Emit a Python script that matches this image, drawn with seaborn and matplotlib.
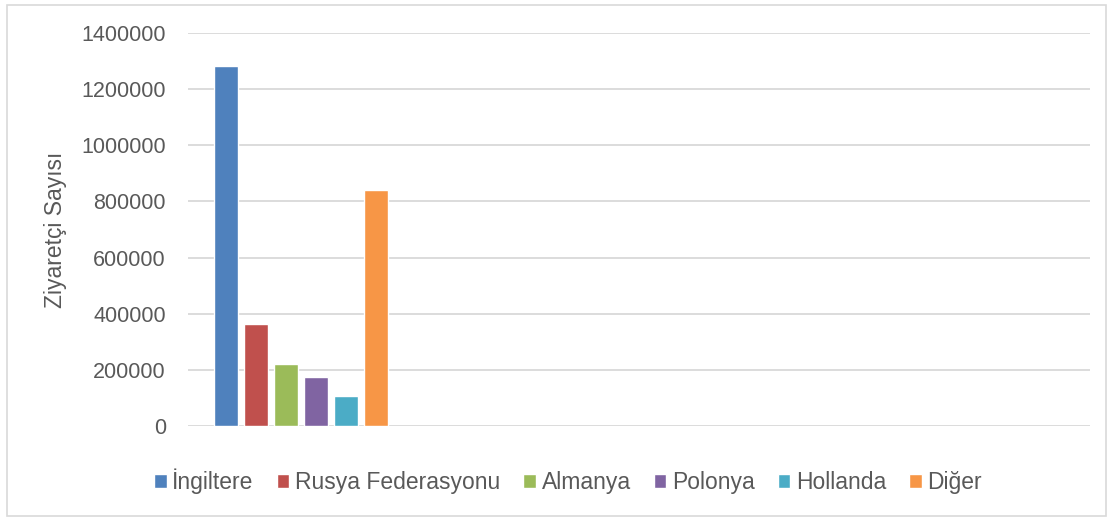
import matplotlib
matplotlib.use("Agg")
import matplotlib.pyplot as plt
import seaborn as sns
import pandas as pd
from matplotlib.patches import Rectangle

countries = ['İngiltere', 'Rusya Federasyonu', 'Almanya', 'Polonya', 'Hollanda', 'Diğer']
visitors = [1283000, 363000, 220000, 174000, 106000, 841000]
colors = ['#4F81BD', '#C0504D', '#9BBB59', '#8064A2', '#4BACC6', '#F79646']
yticks = [0, 200000, 400000, 600000, 800000, 1000000, 1200000, 1400000]

df = pd.DataFrame({'Ülke': countries, 'Ziyaretçi': visitors})

sns.set_theme(style='white')
plt.rcParams['font.family'] = ['Liberation Sans', 'DejaVu Sans']

fig = plt.figure(figsize=(11.13, 5.2), dpi=100)
ax = fig.add_axes([188 / 1113, 1 - 426 / 520, (1090 - 188) / 1113, (426 - 33) / 520])

sns.barplot(data=df, x='Ülke', y='Ziyaretçi', hue='Ülke', palette=colors,
            width=0.8, dodge=False, saturation=1, legend=True, ax=ax)

ax.set_xlim(-1.27, 28.8)
ax.set_ylim(0, 1400000)
ax.set_yticks(yticks)
ax.set_yticklabels([str(v) for v in yticks], fontsize=15.5, color='#595959')
ax.set_xticks([])
ax.set_xlabel('')
ax.set_ylabel('Ziyaretçi Sayısı', fontsize=16.5, color='#595959', labelpad=10)
ax.tick_params(axis='y', length=0, pad=16)
ax.yaxis.grid(True, color='#d9d9d9', linewidth=1.3)
ax.set_axisbelow(True)
for s in ax.spines.values():
    s.set_visible(False)

handles, labels = ax.get_legend_handles_labels()
ax.get_legend().remove()
leg = fig.legend(handles, labels, loc='center', bbox_to_anchor=(568 / 1113, 1 - 481 / 520),
                 ncol=6, frameon=False, fontsize=16.5, handlelength=0.55, handleheight=0.55,
                 handletextpad=0.25, columnspacing=1.0, borderaxespad=0)
for t in leg.get_texts():
    t.set_color('#595959')

fig.patches.append(Rectangle((7 / 1113, 4 / 520), 1099 / 1113, 511 / 520, transform=fig.transFigure,
                             fill=False, edgecolor='#d9d9d9', linewidth=1.2))

fig.savefig('out.png', dpi=100)
